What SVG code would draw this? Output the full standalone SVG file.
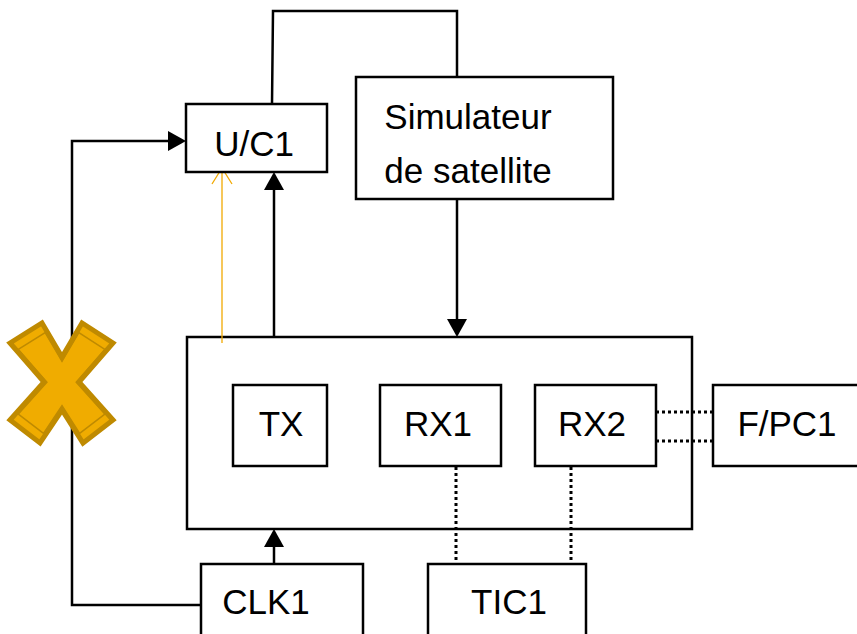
<svg xmlns="http://www.w3.org/2000/svg" width="857" height="634" viewBox="0 0 857 634">
<defs>
<marker id="ah" markerWidth="18" markerHeight="22" viewBox="0 0 18 22" refX="0" refY="11" orient="auto" markerUnits="userSpaceOnUse">
<path d="M0,1 L18,11 L0,21 Z" fill="#000"/>
</marker>
<marker id="oa" markerWidth="22" markerHeight="22" viewBox="0 0 22 22" refX="19" refY="11" orient="auto" markerUnits="userSpaceOnUse">
<path d="M3,1 L19,11 L3,21" fill="none" stroke="#F2A900" stroke-width="1.3"/>
</marker>
</defs>
<style>
.box{fill:#fff;stroke:#000;stroke-width:2.5}
.lbl{font-family:"Liberation Sans",Arial,sans-serif;font-size:35px;fill:#000;text-anchor:middle}
.ln{fill:none;stroke:#000;stroke-width:2.5}
.dot{fill:none;stroke:#000;stroke-width:3;stroke-dasharray:3,3}
</style>
<rect width="857" height="634" fill="#fff"/>
<g id="main"><rect class="box" x="187" y="337" width="505" height="192"/></g>
<g id="connectors">
<polyline class="ln" points="272,104 273,11 457,11 457,77"/>
<line class="ln" x1="457" y1="199" x2="457" y2="319" marker-end="url(#ah)"/>
<line class="ln" x1="274" y1="337" x2="274" y2="190" marker-end="url(#ah)"/>
<polyline class="ln" points="201,605 72,605 72,141 168,141" marker-end="url(#ah)"/>
<line class="ln" x1="274" y1="564" x2="274" y2="547" marker-end="url(#ah)"/>
<line x1="222" y1="343" x2="222" y2="168" stroke="#F2A900" stroke-width="1.3" marker-end="url(#oa)"/>
<line class="dot" x1="456" y1="467" x2="456" y2="564"/>
<line class="dot" x1="571" y1="467" x2="571" y2="564"/>
<line class="dot" x1="656" y1="412" x2="713" y2="412"/>
<line class="dot" x1="656" y1="441" x2="713" y2="441"/>
</g>
<g id="uc1"><rect class="box" x="186" y="104" width="141" height="68"/><text class="lbl" x="254" y="156">U/C1</text></g>
<g id="sim"><rect class="box" x="356" y="77" width="257" height="122"/><text class="lbl" x="468" y="129">Simulateur</text><text class="lbl" x="468" y="183">de satellite</text></g>
<g id="tx"><rect class="box" x="233" y="385" width="94" height="81"/><text class="lbl" x="281" y="436">TX</text></g>
<g id="rx1"><rect class="box" x="380" y="385" width="121" height="81"/><text class="lbl" x="438" y="436">RX1</text></g>
<g id="rx2"><rect class="box" x="535" y="385" width="121" height="81"/><text class="lbl" x="592" y="436">RX2</text></g>
<g id="fpc1"><rect class="box" x="713" y="385" width="150" height="81"/><text class="lbl" x="787" y="436">F/PC1</text></g>
<g id="clk1"><rect class="box" x="201" y="564" width="162" height="80"/><text class="lbl" x="266" y="614">CLK1</text></g>
<g id="tic1"><rect class="box" x="428" y="564" width="158" height="80"/><text class="lbl" x="509" y="614">TIC1</text></g>
<g id="cross">
<polygon points="10,343 42,323 62,357 82,323 113,343 79,382 113,420 83,443 62,410 40,443 10,420 44,382" fill="#F0AC00" stroke="#BF8A00" stroke-width="5" stroke-linejoin="miter"/>
<polygon points="10,343 42,323 62,357 82,323 113,343 79,382 113,420 83,443 62,410 40,443 10,420 44,382" fill="none" stroke="#BF8A00" stroke-width="1.8" transform="translate(62 383) scale(0.84) translate(-62 -383)"/>
</g>
</svg>
